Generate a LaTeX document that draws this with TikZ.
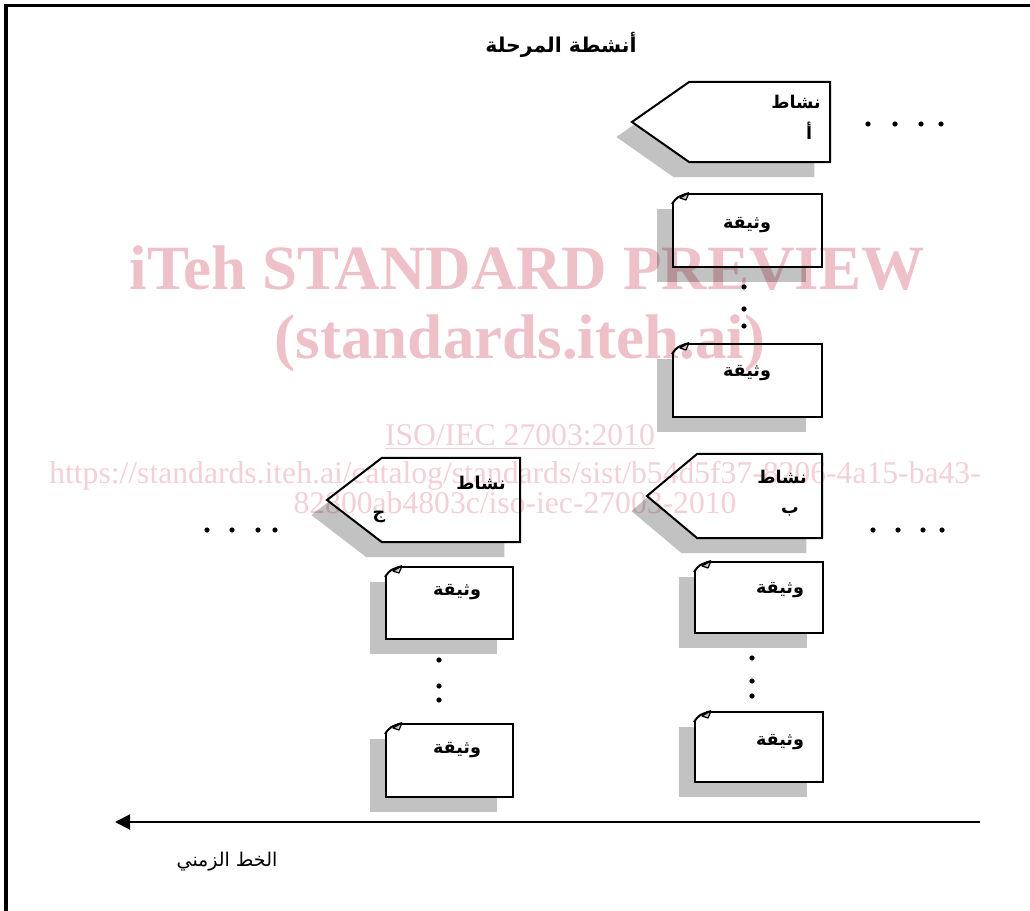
\documentclass[tikz,border=0pt]{standalone}
\usepackage{fontspec}
\setmainfont{Liberation Serif}
\newfontfamily\arabicfont[Script=Arabic]{DejaVu Sans}
\TeXXeTstate=1
\usepackage{xcolor}
\usetikzlibrary{shapes.symbols, shadows, arrows.meta}

\definecolor{wmbig}{RGB}{238,192,200}
\definecolor{wmsmall}{RGB}{243,208,215}
\newcommand{\artext}[1]{\arabicfont\beginR #1\endR}

\begin{document}
\begin{tikzpicture}[
    x=0.025cm, y=-0.025cm,
    every node/.style={inner sep=0pt},
    boxshadow/.style={drop shadow={shadow xshift=-3.9mm, shadow yshift=-3.75mm, fill=black!24, opacity=1}},
    activity/.style={signal, signal to=west, draw, fill=white, line width=0.5mm, boxshadow},
    doc/.style={rectangle, draw, fill=white, line width=0.5mm, boxshadow},
    boldtext/.style={font=\bfseries\fontsize{12.5}{14}\selectfont},
    titletext/.style={font=\bfseries\fontsize{14.5}{17}\selectfont},
    plaintext/.style={font=\fontsize{13.5}{16}\selectfont},
    timeline/.style={line width=0.5mm, -{Triangle[length=3.8mm, width=3.8mm]}},
    wmbigtext/.style={text=wmbig, font=\bfseries\fontsize{44.8}{50}\selectfont},
    wmsmalltext/.style={text=wmsmall, font=\fontsize{22.5}{26}\selectfont}
]
\useasboundingbox (0,0) rectangle (1030,911);

% Frame
\draw[line width=0.75mm] (6,915) -- (6,6) -- (1035,6);

% Title
\node[titletext] (title) at (561,45) {\artext{أنشطة المرحلة}};

% Activities
\node[activity, signal pointer angle=70, minimum width=49.5mm, minimum height=20mm, anchor=east] (actA) at (831,122) {};
\node[activity, signal pointer angle=80, minimum width=43.75mm, minimum height=21mm, anchor=east] (actB) at (823,496) {};
\node[activity, signal pointer angle=75, minimum width=48.25mm, minimum height=21mm, anchor=east] (actC) at (521,500) {};

\node[boldtext] (actAname) at (796,102) {\artext{نشاط}};
\node[boldtext] (actAletter) at (809,131) {\artext{أ}};
\node[boldtext] (actBname) at (782,477) {\artext{نشاط}};
\node[boldtext] (actBletter) at (790,512) {\artext{ب}};
\node[boldtext] (actCname) at (481,483) {\artext{نشاط}};
\node[boldtext] (actCletter) at (379,517) {\artext{ج}};

% Documents
\node[doc, minimum width=37.25mm, minimum height=18.25mm] (docA1) at (747.5,230.5) {};
\node[doc, minimum width=37.25mm, minimum height=18.25mm] (docA2) at (747.5,380.5) {};
\node[doc, minimum width=32mm, minimum height=17.75mm] (docB1) at (759,597.5) {};
\node[doc, minimum width=32mm, minimum height=17.5mm] (docB2) at (759,747) {};
\node[doc, minimum width=31.75mm, minimum height=18mm] (docC1) at (449.5,603) {};
\node[doc, minimum width=31.75mm, minimum height=18.25mm] (docC2) at (449.5,760.5) {};

\foreach \d in {docA1,docA2,docB1,docB2,docC1,docC2} {
  \fill[white] ([shift={(-3,-3)}]\d.north west) -- ([shift={(17,-3)}]\d.north west) -- ([shift={(-3,12)}]\d.north west) -- cycle;
  \draw[line width=0.5mm] ([shift={(0,11)}]\d.north west) .. controls ([shift={(5,4)}]\d.north west) .. ([shift={(17,0)}]\d.north west);
  \filldraw[fill=black!20, line width=0.3mm, line join=round] ([shift={(17,0)}]\d.north west) -- ([shift={(14,7)}]\d.north west) -- ([shift={(8,5)}]\d.north west) -- cycle;
}

\node[boldtext] (docA1text) at (747,225) {\artext{وثيقة}};
\node[boldtext] (docA2text) at (747,373) {\artext{وثيقة}};
\node[boldtext] (docB1text) at (780,590) {\artext{وثيقة}};
\node[boldtext] (docB2text) at (780,742) {\artext{وثيقة}};
\node[boldtext] (docC1text) at (457,592) {\artext{وثيقة}};
\node[boldtext] (docC2text) at (457,750) {\artext{وثيقة}};

% Dots
\foreach \y in {287,309,326} \fill (744,\y) circle (2.6);
\foreach \y in {658,681,696} \fill (752,\y) circle (2.6);
\foreach \y in {660,686,700} \fill (439,\y) circle (2.6);
\foreach \x in {868,895,921,941} \fill (\x,124) circle (2.6);
\foreach \x in {873,898,923,942} \fill (\x,530) circle (2.6);
\foreach \x in {207,232,258,275} \fill (\x,530) circle (2.6);

% Timeline
\coordinate (tlR) at (980,822);
\coordinate (tlL) at (115,822);
\draw[timeline] (tlR) -- (tlL);
\node[plaintext] (tllabel) at (227,862) {\artext{الخط الزمني}};

% Watermark
\begin{scope}[blend mode=multiply]
\node[wmbigtext] (wm1) at (527,268) {iTeh STANDARD PREVIEW};
\node[wmbigtext] (wm2) at (520,343) {(standards.iteh.ai)};
\node[wmsmalltext] (wm3) at (520,437) {\underline{ISO/IEC 27003:2010}};
\node[wmsmalltext] (wm4) at (515,476) {https://standards.iteh.ai/catalog/standards/sist/b54d5f37-8206-4a15-ba43-};
\node[wmsmalltext] (wm5) at (515,503) {82800ab4803c/iso-iec-27003-2010};
\end{scope}

\end{tikzpicture}
\end{document}
